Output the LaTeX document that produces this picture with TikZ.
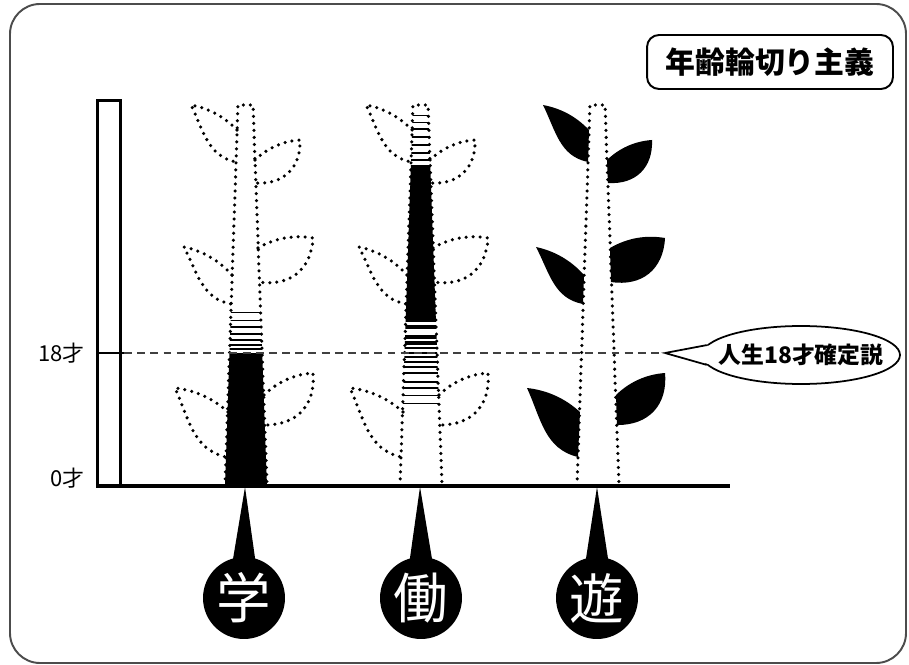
\documentclass[tikz,border=0pt]{standalone}
\usepackage{fontspec}
\setmainfont{Noto Sans CJK JP}
\usetikzlibrary{calc,shapes.geometric}

% leaf on the left side of a stem: style, upper base, tip, lower base
\newcommand\leafleft[4]{%
  \path[#1] (#2) .. controls ($(#2)!0.35!-18:(#3)$) and ($(#3)!0.35!18:(#2)$) .. (#3)
    .. controls ($(#3)!0.4!-12:(#4)$) and ($(#4)!0.4!40:(#3)$) .. (#4);}
% same on the right side
\newcommand\leafright[4]{%
  \path[#1] (#2) .. controls ($(#2)!0.35!20:(#3)$) and ($(#3)!0.35!-20:(#2)$) .. (#3)
    .. controls ($(#3)!0.45!48:(#4)$) and ($(#4)!0.45!-48:(#3)$) .. (#4);}

\begin{document}
\begin{tikzpicture}[x=0.02cm, y=-0.02cm,
  frame/.style={draw=black!70, line width=1.1pt, rounded corners=0.6cm},
  dots/.style={draw, line width=2pt, dash pattern=on 0pt off 4pt, line cap=round},
  dotleaf/.style={dots},
  inkleaf/.style={fill=black},
  badge/.style={circle, fill=black, text=white, minimum size=1.64cm, inner sep=0pt,
                font=\fontsize{31}{31}\selectfont},
  age/.style={font=\fontsize{12.5}{12.5}\selectfont, anchor=east, inner sep=0pt},
  guide/.style={black!75, line width=0.8pt, dash pattern=on 4.5pt off 3pt}
]
  \useasboundingbox (0,0) rectangle (909,665);
  \draw[frame] (10,4) rectangle (906,663);

  % title
  \node[draw, line width=1.1pt, rounded corners=0.24cm, minimum width=4.92cm,
        minimum height=1.08cm, font=\fontsize{17}{17}\selectfont\bfseries]
    (title) at (770,62) {年齢輪切り主義};

  % leaves, same layout on every plant
  \foreach \dx/\leafstyle in {0/dotleaf, 175/dotleaf, 352/inkleaf} {
    \begin{scope}[shift={(\dx,0)}, leaf/.style/.expanded=\leafstyle]
      \leafleft{leaf}{237,130}{191,105}{236,162}
      \leafright{leaf}{255,160}{300,140}{256,183}
      \leafleft{leaf}{232,275}{184,247}{231,304}
      \leafright{leaf}{258,248}{313,238}{259,282}
      \leafleft{leaf}{228,412}{175,388}{226,457}
      \leafright{leaf}{264,395}{313,373}{265,425}
    \end{scope}
  }

  % 学: filled below 18
  \begin{scope}
    \clip (225,486) -- (238,105) -- (253,105) -- (267,486) -- cycle;
    \fill (200,353) rectangle (300,490);
    \foreach \y/\w in {312/0.35, 320/0.5, 327/0.75, 334/1.0, 340/1.3, 345/1.5, 349/1.7}
      \draw[line width=\w pt] (200,\y) -- (300,\y);
  \end{scope}

  % 働: filled in the middle years
  \begin{scope}[shift={(175,0)}]
    \clip (225,486) -- (238,105) -- (253,105) -- (267,486) -- cycle;
    \fill (200,165) rectangle (300,322);
    \foreach \y/\w in {115/0.3, 122/0.45, 129/0.6, 137/0.8, 145/1.0, 153/1.3, 160/1.6,
                       327/2.3, 337/2.0, 343/1.8, 348/1.7, 353/1.6, 357/1.5, 362/1.35,
                       367/1.25, 373/1.1, 382/0.9, 388/0.7, 395/0.5, 403/0.35}
      \draw[line width=\w pt] (200,\y) -- (300,\y);
  \end{scope}

  % stems
  \foreach \dx in {0,175,352}
    \draw[dots, shift={(\dx,0)}] (225,486) -- (238,105) -- (253,105) -- (267,486);

  % age scale
  \draw[line width=2pt] (97.5,486) rectangle (120.5,100.5);
  \draw[line width=1.6pt] (97.5,353) -- (124,353);
  \node[age] (age18) at (85,353) {18才};
  \node[age] (age0) at (85,478) {0才};

  % callout
  \node[draw, line width=1pt, ellipse, minimum width=3.96cm, minimum height=1.16cm,
        inner sep=0pt, font=\fontsize{13}{13}\selectfont\bfseries]
    (claim) at (801,355) {\makebox[0pt]{人生18才確定説}};
  \coordinate (claimtip) at (665,353);
  \fill[white] (claimtip) -- ($(claim.174)+(5,0)$) -- ($(claim.186)+(5,0)$) -- cycle;
  \draw[line width=1pt] (claim.174) -- (claimtip) -- (claim.186);
  \draw[guide] (124,353) -- (claimtip);

  % ground
  \draw[line width=2.3pt] (97,486) -- (730,486);

  % badges
  \node[badge] (gaku) at (244,598) {学};
  \node[badge] (hataraku) at (421,598) {働};
  \node[badge] (asobi) at (597,598) {遊};
  \coordinate (gakuroot) at (245,487);
  \coordinate (hatarakuroot) at (420,487);
  \coordinate (asobiroot) at (597,487);
  \foreach \b in {gaku, hataraku, asobi}
    \fill (\b root) -- ($(\b.center)+(-12,-33)$) -- ($(\b.center)+(12,-33)$) -- cycle;
\end{tikzpicture}
\end{document}
